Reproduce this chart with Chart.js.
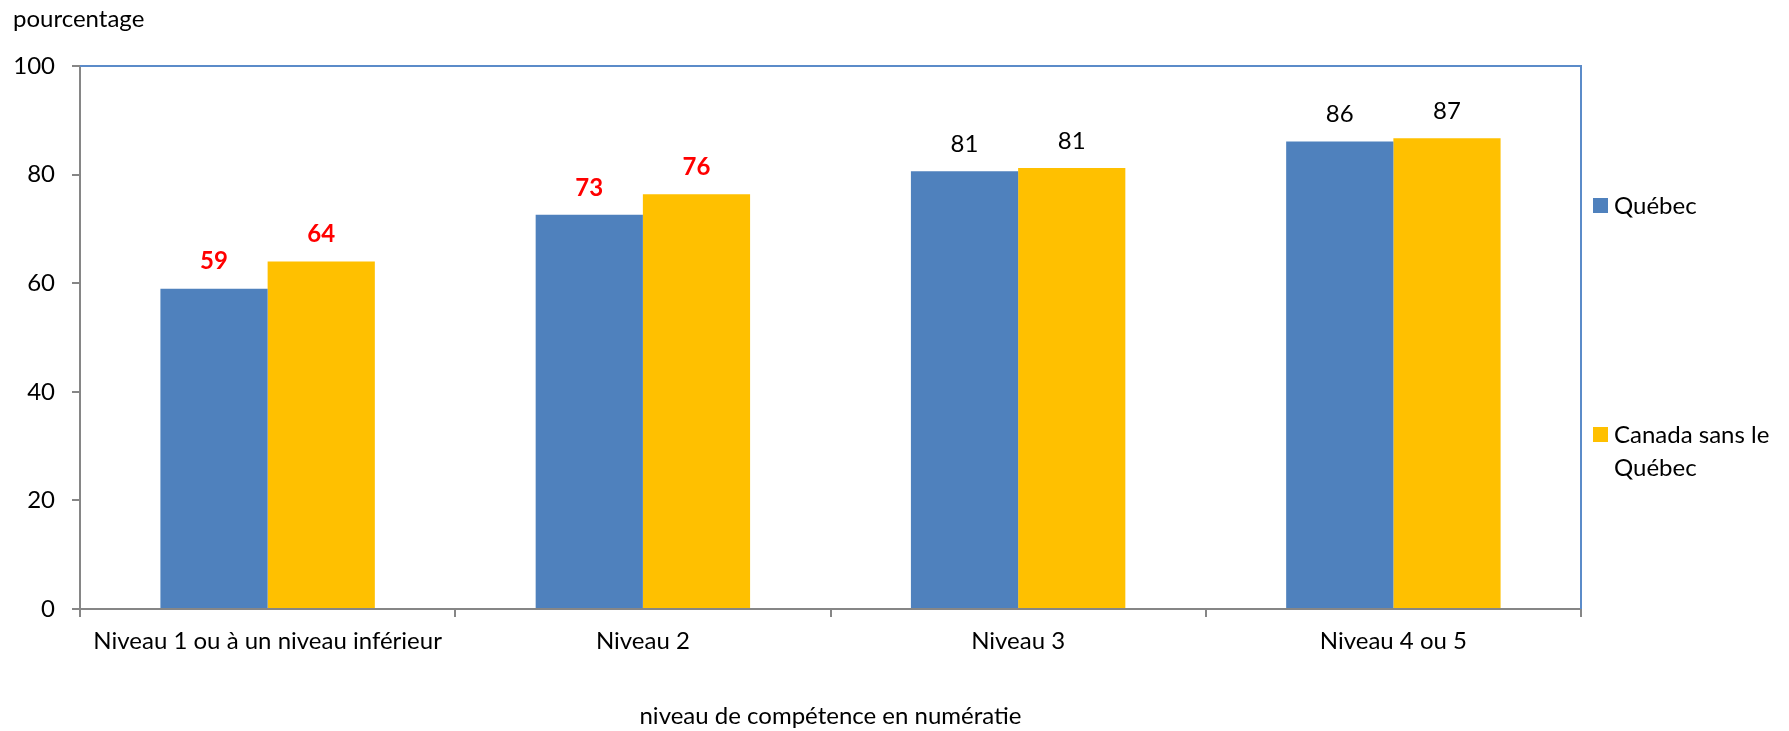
<!DOCTYPE html>
<html>
<head>
<meta charset="utf-8">
<script src="https://cdn.jsdelivr.net/npm/chart.js@4.4.1/dist/chart.umd.min.js"></script>
<style>
	html, body { margin: 0; padding: 0; background: #fff; }
	canvas { display: block; }
</style>
</head>
<body>
<canvas id="numChart" width="1789" height="731"></canvas>
<script>
const categories = ['Niveau 1 ou à un niveau inférieur', 'Niveau 2', 'Niveau 3', 'Niveau 4 ou 5']
const quebec = [59.0, 72.6, 80.6, 86.1]
const canadaSansQc = [64.0, 76.4, 81.2, 86.7]
const seriesNames = ['Québec', ['Canada sans le', 'Québec']]
const yTicks = [0, 20, 40, 60, 80, 100]

const FONT = 'Lato, "Open Sans", sans-serif'
const FS = 24
const BLUE = '#4F81BD'
const GOLD = '#FFC000'
const AXIS = '#868686'

// valeurs en rouge pour les deux premiers niveaux
const redCats = [0, 1]

const valueLabels = {
	id: 'valueLabels',
	afterDatasetsDraw(chart) {
		const c = chart.ctx
		c.save()
		c.textAlign = 'center'
		c.textBaseline = 'middle'
		chart.data.datasets.forEach((ds, di) => {
			chart.getDatasetMeta(di).data.forEach((bar, i) => {
				const red = redCats.includes(i)
				c.fillStyle = red ? '#FF0000' : '#000'
				c.font = (red ? 'bold ' : '') + FS + 'px ' + FONT
				c.fillText(String(Math.round(ds.data[i])), bar.x, bar.y - 27)
			})
		})
		c.restore()
	}
}

const frame = {
	id: 'frame',
	beforeDatasetsDraw(chart) {
		const { ctx: c, chartArea: a } = chart
		c.save()
		c.strokeStyle = '#5B8BC9'
		c.lineWidth = 2
		c.beginPath()
		c.moveTo(a.left, a.top)
		c.lineTo(a.right, a.top)
		c.lineTo(a.right, a.bottom)
		c.stroke()
		c.restore()
	}
}

const texts = {
	id: 'texts',
	afterDraw(chart) {
		const { ctx: c, chartArea: a } = chart
		c.save()
		c.fillStyle = '#000'
		c.font = FS + 'px ' + FONT
		c.textBaseline = 'middle'
		c.textAlign = 'left'
		c.fillText('pourcentage', 13, 19)
		c.textAlign = 'center'
		c.fillText('niveau de compétence en numératie', (a.left + a.right) / 2, 716)

		// légende à droite
		const rows = [205, 434]
		c.textAlign = 'left'
		chart.data.datasets.forEach((ds, i) => {
			c.fillStyle = ds.backgroundColor
			c.fillRect(1593, rows[i] - 7, 15, 15)
			c.fillStyle = '#000'
			const lines = Array.isArray(seriesNames[i]) ? seriesNames[i] : [seriesNames[i]]
			lines.forEach((t, k) => c.fillText(t, 1614, rows[i] + 1 + k * 33))
		})
		c.restore()
	}
}

const chart = new Chart(document.getElementById('numChart'), {
	type: 'bar',
	data: {
		labels: categories,
		datasets: [
			{ label: 'Québec', data: quebec, backgroundColor: BLUE },
			{ label: 'Canada sans le Québec', data: canadaSansQc, backgroundColor: GOLD }
		]
	},
	options: {
		responsive: false,
		animation: false,
		layout: { padding: { top: 66, right: 208, bottom: 0, left: 0 } },
		datasets: { bar: { categoryPercentage: 2 / 3.5, barPercentage: 1 } },
		plugins: { legend: { display: false }, tooltip: { enabled: false } },
		scales: {
			x: {
				afterFit(s) { s.height = 122 },
				grid: { drawOnChartArea: false, color: AXIS, lineWidth: 2, tickLength: 8, offset: true },
				border: { color: AXIS, width: 2 },
				ticks: { color: '#000', font: { size: FS, family: FONT }, padding: 10, maxRotation: 0 }
			},
			y: {
				min: 0,
				max: 100,
				afterFit(s) { s.width = 80 },
				afterBuildTicks(s) { s.ticks = yTicks.map(v => ({ value: v })) },
				grid: { drawOnChartArea: false, color: AXIS, lineWidth: 2, tickLength: 8 },
				border: { color: AXIS, width: 2 },
				ticks: { color: '#000', font: { size: FS, family: FONT }, padding: 17 }
			}
		}
	},
	plugins: [valueLabels, frame, texts]
})
</script>
</body>
</html>
